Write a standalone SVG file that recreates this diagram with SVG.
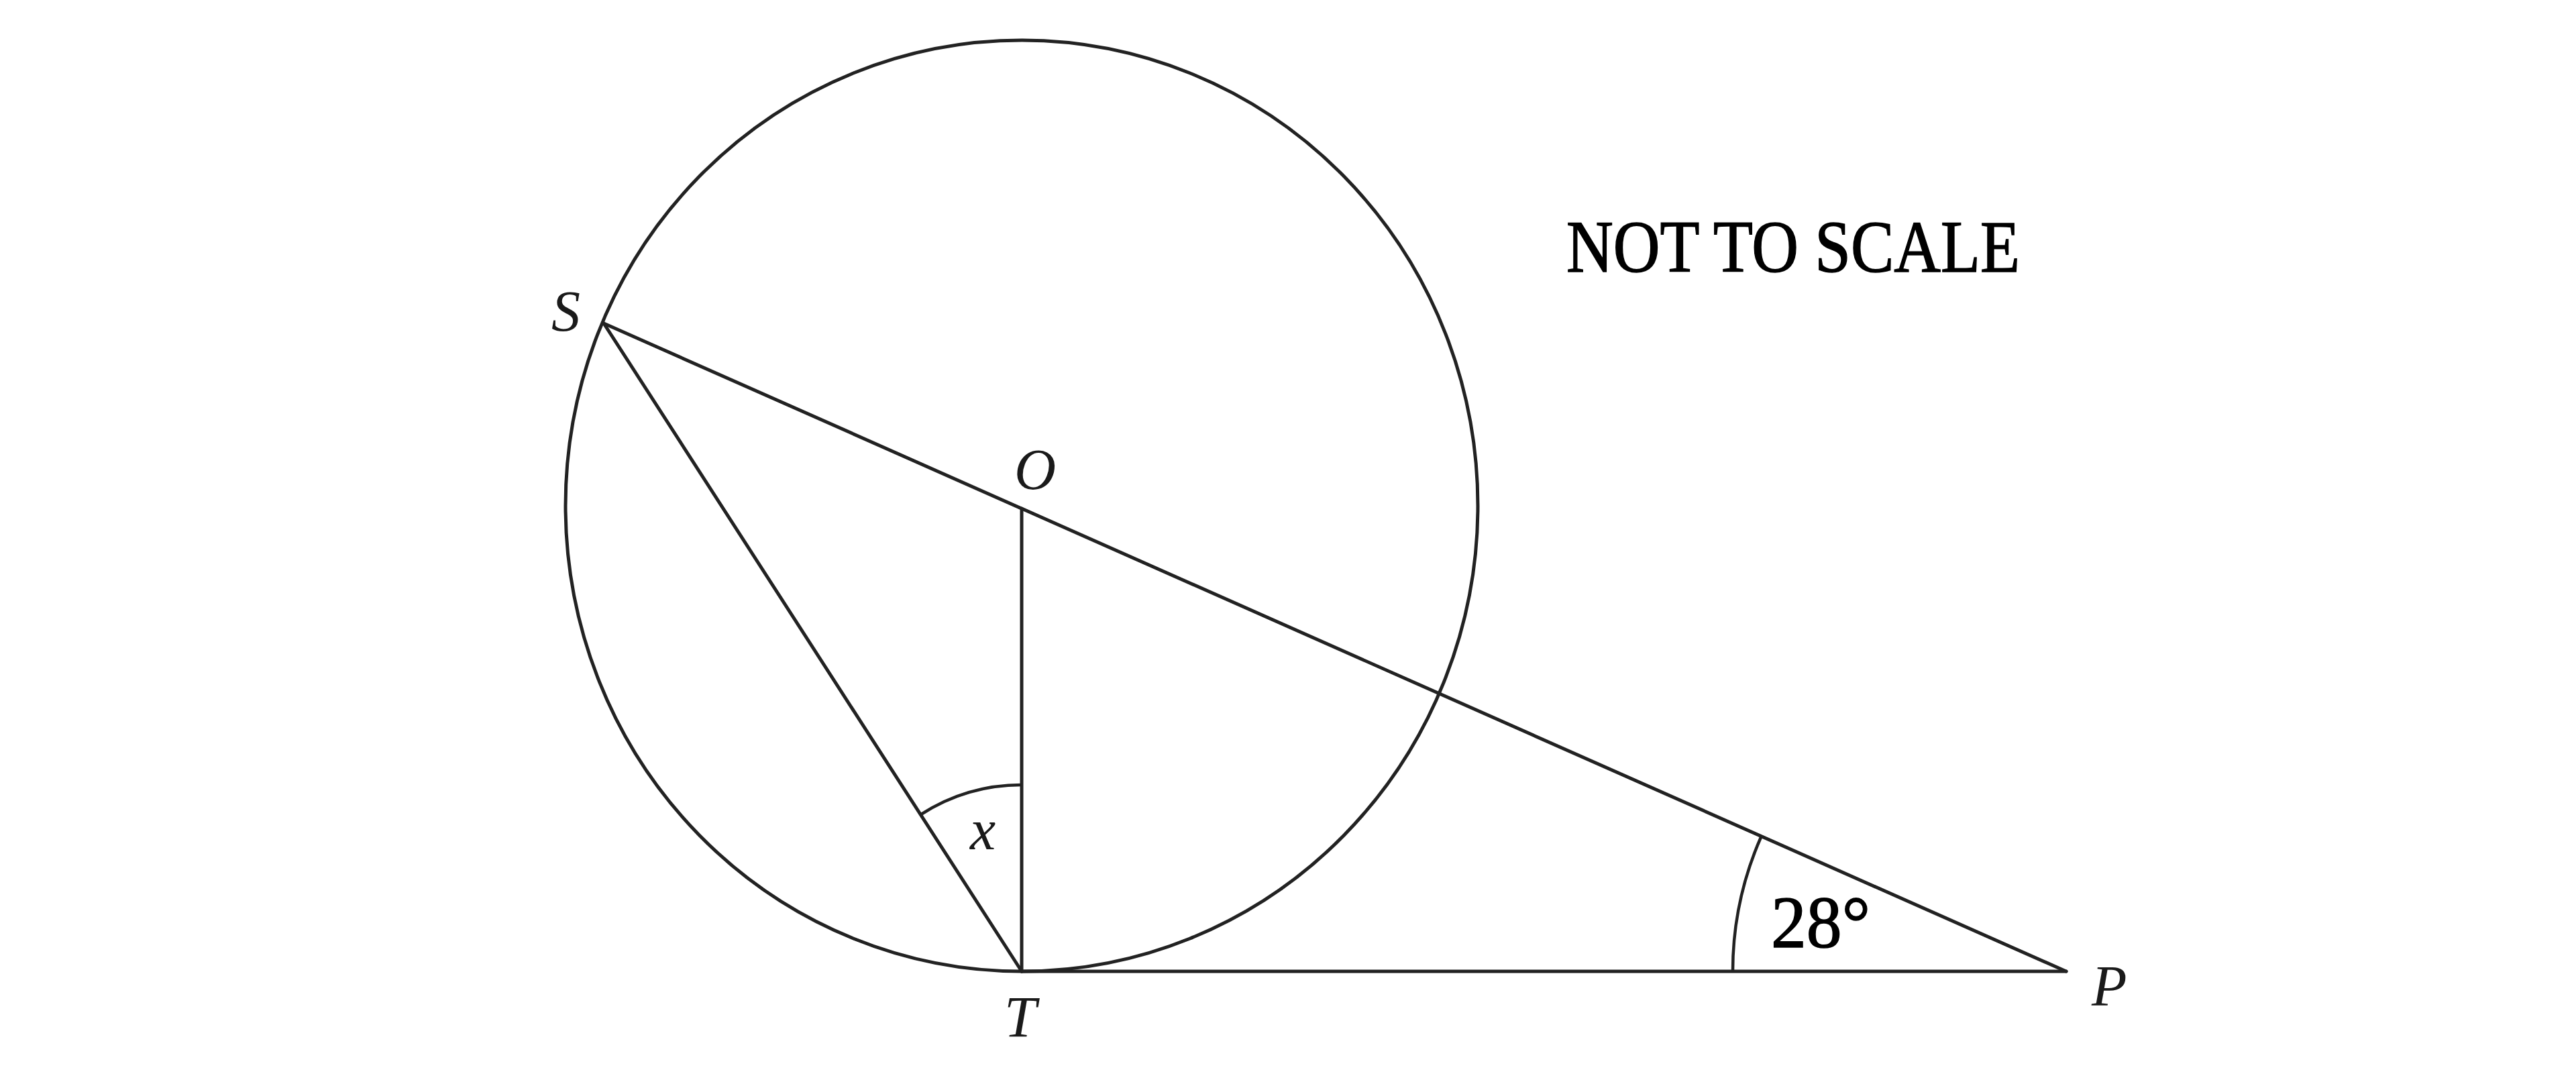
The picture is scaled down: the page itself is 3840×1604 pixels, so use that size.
<svg xmlns="http://www.w3.org/2000/svg" width="3840" height="1604" viewBox="0 0 3840 1604">
<style>
.ln{fill:none;stroke:#222;stroke-width:5;stroke-linecap:round;stroke-linejoin:round}
.arc{fill:none;stroke:#222;stroke-width:4.5}
.lbl{font-family:"Liberation Serif","DejaVu Serif",serif;font-style:italic;font-size:86px;fill:#1a1a1a}
.txt{font-family:"Liberation Serif","DejaVu Serif",serif;font-size:110px;fill:#000;stroke:#000;stroke-width:1.5}
</style>
<rect width="3840" height="1604" fill="#fff"/>
<g id="circle">
<ellipse cx="1523" cy="754" rx="680" ry="694" class="ln"/>
</g>
<g id="connectors">
<line x1="900" y1="482" x2="3080" y2="1448" class="ln"/>
<line x1="900" y1="482" x2="1523" y2="1448" class="ln"/>
<line x1="1523" y1="758" x2="1523" y2="1448" class="ln"/>
<line x1="1523" y1="1448" x2="3080" y2="1448" class="ln"/>
<path d="M 1373 1214 A 278 278 0 0 1 1523 1170" class="arc"/>
<path d="M 2625 1248 A 497 497 0 0 0 2583 1448" class="arc"/>
</g>
<g id="labels">
<text id="S" class="lbl" x="822" y="493">S</text>
<text id="O" class="lbl" x="1512" y="729">O</text>
<text id="T" class="lbl" x="1497" y="1545">T</text>
<text id="P" class="lbl" x="3118" y="1499">P</text>
<text id="x" class="lbl" x="1446" y="1266">x</text>
<text id="angle" class="txt" x="2640" y="1412" textLength="148" lengthAdjust="spacingAndGlyphs">28°</text>
<text id="note" class="txt" x="2335" y="405" textLength="676" lengthAdjust="spacingAndGlyphs">NOT TO SCALE</text>
</g>
</svg>
